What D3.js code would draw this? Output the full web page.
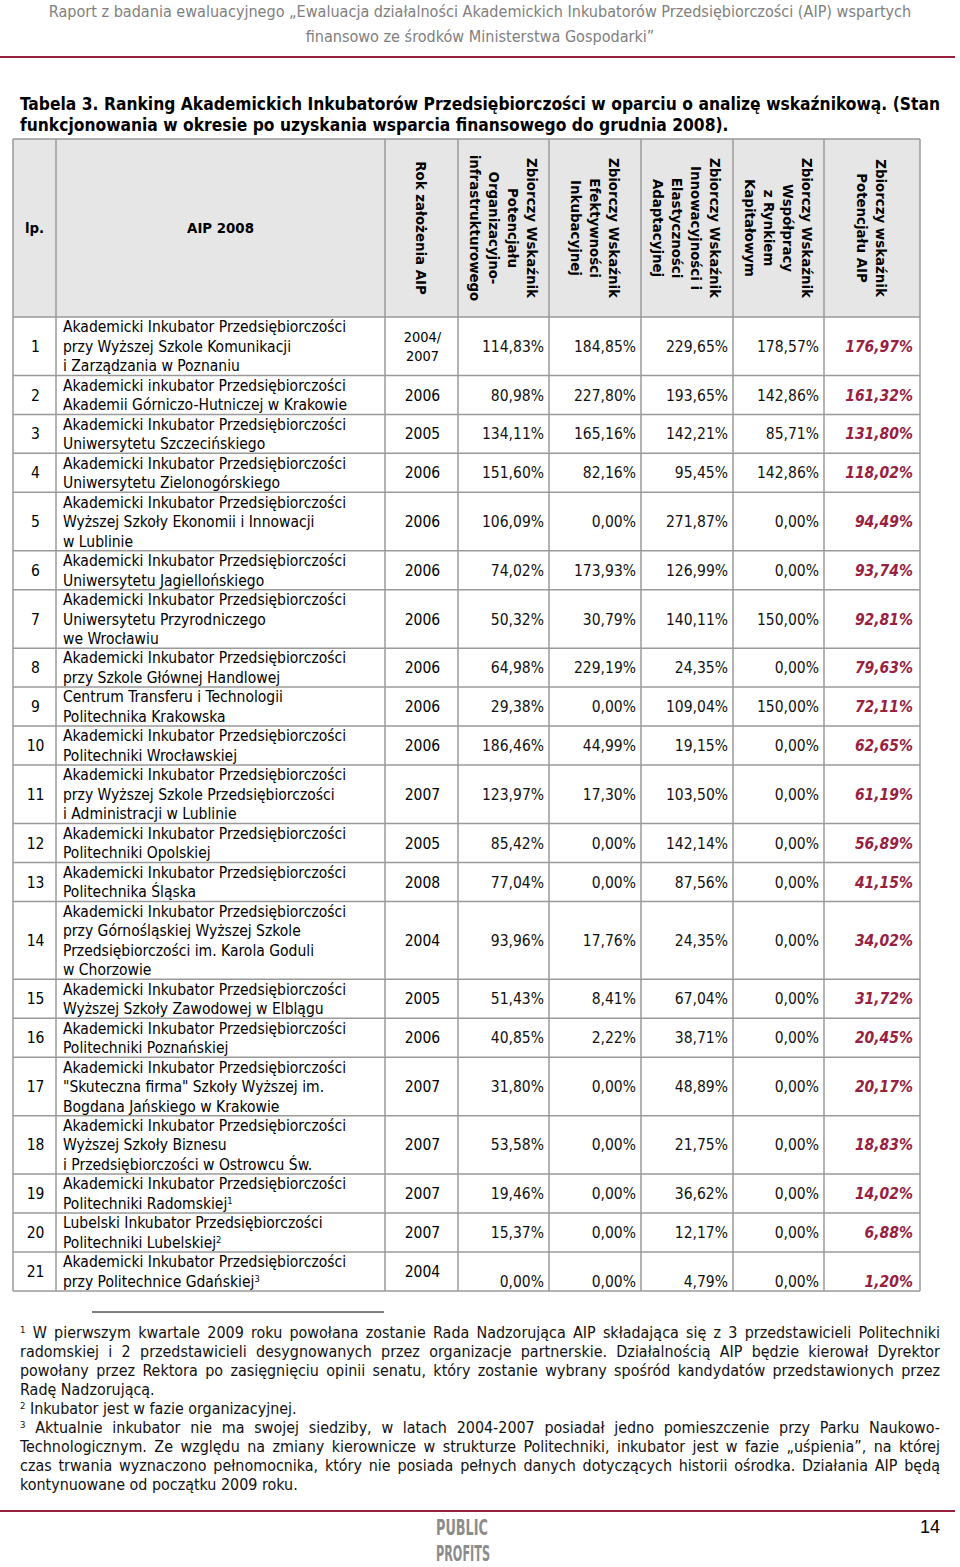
<!DOCTYPE html>
<html>
<head>
<meta charset="utf-8">
<script src="https://cdn.jsdelivr.net/npm/d3@7"></script>
<style>
  body { margin: 0; background: #fff; }
</style>
</head>
<body>
<svg id="page" width="960" height="1567"></svg>
<script>
// ---- data ----
const pageHeader = [
  "Raport z badania ewaluacyjnego „Ewaluacja działalności Akademickich Inkubatorów Przedsiębiorczości (AIP) wspartych",
  "finansowo ze środków Ministerstwa Gospodarki”"
];
const titleLines = [
  "Tabela 3. Ranking Akademickich Inkubatorów Przedsiębiorczości w oparciu o analizę wskaźnikową. (Stan",
  "funkcjonowania w okresie po uzyskania wsparcia finansowego do grudnia 2008)."
];
const colHeaders = [
  ["lp."],
  ["AIP 2008"],
  ["Rok założenia AIP"],
  ["Zbiorczy Wskaźnik", "Potencjału", "Organizacyjno-", "infrastrukturowego"],
  ["Zbiorczy Wskaźnik", "Efektywności", "Inkubacyjnej"],
  ["Zbiorczy Wskaźnik", "Innowacyjności i", "Elastyczności", "Adaptacyjnej"],
  ["Zbiorczy Wskaźnik", "Współpracy", "z Rynkiem", "Kapitałowym"],
  ["Zbiorczy wskaźnik", "Potencjału AIP"]
];
const lpLabels = ["1","2","3","4","5","6","7","8","9","10","11","12","13","14","15","16","17","18","19","20","21"];
const aipNames = [
  ["Akademicki Inkubator Przedsiębiorczości", "przy Wyższej Szkole Komunikacji", "i Zarządzania w Poznaniu"],
  ["Akademicki inkubator Przedsiębiorczości", "Akademii Górniczo-Hutniczej w Krakowie"],
  ["Akademicki Inkubator Przedsiębiorczości", "Uniwersytetu Szczecińskiego"],
  ["Akademicki Inkubator Przedsiębiorczości", "Uniwersytetu Zielonogórskiego"],
  ["Akademicki Inkubator Przedsiębiorczości", "Wyższej Szkoły Ekonomii i Innowacji", "w Lublinie"],
  ["Akademicki Inkubator Przedsiębiorczości", "Uniwersytetu Jagiellońskiego"],
  ["Akademicki Inkubator Przedsiębiorczości", "Uniwersytetu Przyrodniczego", "we Wrocławiu"],
  ["Akademicki Inkubator Przedsiębiorczości", "przy Szkole Głównej Handlowej"],
  ["Centrum Transferu i Technologii", "Politechnika Krakowska"],
  ["Akademicki Inkubator Przedsiębiorczości", "Politechniki Wrocławskiej"],
  ["Akademicki Inkubator Przedsiębiorczości", "przy Wyższej Szkole Przedsiębiorczości", "i Administracji w Lublinie"],
  ["Akademicki Inkubator Przedsiębiorczości", "Politechniki Opolskiej"],
  ["Akademicki Inkubator Przedsiębiorczości", "Politechnika Śląska"],
  ["Akademicki Inkubator Przedsiębiorczości", "przy Górnośląskiej Wyższej Szkole", "Przedsiębiorczości im. Karola Goduli", "w Chorzowie"],
  ["Akademicki Inkubator Przedsiębiorczości", "Wyższej Szkoły Zawodowej w Elblągu"],
  ["Akademicki Inkubator Przedsiębiorczości", "Politechniki Poznańskiej"],
  ["Akademicki Inkubator Przedsiębiorczości", "\"Skuteczna firma\" Szkoły Wyższej im.", "Bogdana Jańskiego w Krakowie"],
  ["Akademicki Inkubator Przedsiębiorczości", "Wyższej Szkoły Biznesu", "i Przedsiębiorczości w Ostrowcu Św."],
  ["Akademicki Inkubator Przedsiębiorczości", "Politechniki Radomskiej^1"],
  ["Lubelski Inkubator Przedsiębiorczości", "Politechniki Lubelskiej^2"],
  ["Akademicki Inkubator Przedsiębiorczości", "przy Politechnice Gdańskiej^3"]
];
const foundYears = [
  ["2004/", "2007"], ["2006"], ["2005"], ["2006"], ["2006"], ["2006"], ["2006"], ["2006"], ["2006"], ["2006"],
  ["2007"], ["2005"], ["2008"], ["2004"], ["2005"], ["2006"], ["2007"], ["2007"], ["2007"], ["2007"], ["2004"]
];
const potencjalOrg = [114.83, 80.98, 134.11, 151.60, 106.09, 74.02, 50.32, 64.98, 29.38, 186.46, 123.97, 85.42, 77.04, 93.96, 51.43, 40.85, 31.80, 53.58, 19.46, 15.37, 0.00];
const efektywnosc  = [184.85, 227.80, 165.16, 82.16, 0.00, 173.93, 30.79, 229.19, 0.00, 44.99, 17.30, 0.00, 0.00, 17.76, 8.41, 2.22, 0.00, 0.00, 0.00, 0.00, 0.00];
const innowacyjnosc = [229.65, 193.65, 142.21, 95.45, 271.87, 126.99, 140.11, 24.35, 109.04, 19.15, 103.50, 142.14, 87.56, 24.35, 67.04, 38.71, 48.89, 21.75, 36.62, 12.17, 4.79];
const wspolpraca   = [178.57, 142.86, 85.71, 142.86, 0.00, 0.00, 150.00, 0.00, 150.00, 0.00, 0.00, 0.00, 0.00, 0.00, 0.00, 0.00, 0.00, 0.00, 0.00, 0.00, 0.00];
const potencjalAIP = [176.97, 161.32, 131.80, 118.02, 94.49, 93.74, 92.81, 79.63, 72.11, 62.65, 61.19, 56.89, 41.15, 34.02, 31.72, 20.45, 20.17, 18.83, 14.02, 6.88, 1.20];
const footnotes = [
  ["^1 W pierwszym kwartale 2009 roku powołana zostanie Rada Nadzorująca AIP składająca się z 3 przedstawicieli Politechniki",
   "radomskiej i 2 przedstawicieli desygnowanych przez organizacje partnerskie. Działalnością AIP będzie kierował Dyrektor",
   "powołany przez Rektora po zasięgnięciu opinii senatu, który zostanie wybrany spośród kandydatów przedstawionych przez",
   "Radę Nadzorującą."],
  ["^2 Inkubator jest w fazie organizacyjnej."],
  ["^3 Aktualnie inkubator nie ma swojej siedziby, w latach 2004-2007 posiadał jedno pomieszczenie przy Parku Naukowo-",
   "Technologicznym. Ze względu na zmiany kierownicze w strukturze Politechniki, inkubator jest w fazie „uśpienia”, na której",
   "czas trwania wyznaczono pełnomocnika, który nie posiada pełnych danych dotyczących historii ośrodka. Działania AIP będą",
   "kontynuowane od początku 2009 roku."]
];
const pageNumber = "14";

// ---- layout ----
const BODY = '"DejaVu Sans Condensed","DejaVu Sans",sans-serif';
const NARROW = '"Liberation Sans Narrow","DejaVu Sans Condensed","DejaVu Sans",sans-serif';
const RED = "#98213f";
const GRID = "#9a9a9a";

const svg = d3.select("#page");
const fmt = d3.formatLocale({decimal: ",", thousands: " ", grouping: [3], currency: ["", ""]}).format(".2f");

const measurer = svg.append("text").attr("visibility", "hidden");
function fitSize(family, weight, style, sample, target) {
  measurer.attr("font-family", family).attr("font-weight", weight)
    .attr("font-style", style).style("font-stretch", "condensed")
    .attr("font-size", 20).text(sample);
  return 20 * target / measurer.node().getComputedTextLength();
}

// write text with ^n superscripts
function writeRich(t, str, size) {
  const parts = str.split(/(\^\d)/);
  parts.forEach(p => {
    if (!p) return;
    if (p[0] === "^") {
      t.append("tspan").attr("font-size", size * 0.6).attr("baseline-shift", "super").text(p.slice(1));
    } else {
      t.append("tspan").text(p);
    }
  });
}
function justify(t, width) {
  const node = t.node();
  const n = (node.textContent.match(/ /g) || []).length;
  const w = node.getComputedTextLength();
  if (n > 0) t.attr("word-spacing", (width - w) / n);
}

// ---- page header ----
const hdrSize = fitSize(NARROW, "normal", "normal", pageHeader[1], 349);
pageHeader.forEach((line, i) => {
  svg.append("text")
    .attr("x", 480).attr("y", 17 + i * 25)
    .attr("text-anchor", "middle")
    .attr("font-family", NARROW).style("font-stretch", "condensed")
    .attr("font-size", hdrSize).attr("fill", "#7f7f7f")
    .text(line);
});
svg.append("line").attr("x1", 0).attr("x2", 955).attr("y1", 57).attr("y2", 57)
  .attr("stroke", RED).attr("stroke-width", 2);

// ---- title ----
const titleSize = fitSize(BODY, "bold", "normal", titleLines[1], 709);
titleLines.forEach((line, i) => {
  const t = svg.append("text")
    .attr("x", 20).attr("y", 110 + i * 21)
    .attr("font-family", BODY).style("font-stretch", "condensed")
    .attr("font-weight", "bold").attr("font-size", titleSize)
    .text(line);
  if (i === 0) justify(t, 920);
});

// ---- table ----
const colEdges = [13, 56, 385, 458, 549, 641, 733, 824, 920];
const headTop = 139, headBottom = 317, tableBottom = 1291;
const rowLines = aipNames.map(d => d.length);
const cumLines = d3.cumsum([0].concat(rowLines));
const y = d3.scaleLinear().domain([0, d3.sum(rowLines)]).range([headBottom, tableBottom]);
const lineH = y(1) - y(0);

const nameSize = Math.min(15.5, fitSize(BODY, "normal", "normal", "Akademicki Inkubator Przedsiębiorczości", 295));
const valSize = Math.min(15.5, fitSize(BODY, "normal", "normal", "114,83%", 65));
const headSize = Math.min(16, fitSize(BODY, "bold", "normal", "Zbiorczy Wskaźnik", 140));

// header background
svg.append("rect")
  .attr("x", colEdges[0]).attr("y", headTop)
  .attr("width", colEdges[8] - colEdges[0]).attr("height", headBottom - headTop)
  .attr("fill", "#e6e6e6");

const table = svg.append("g");
const headG = table.append("g");
const headMid = (headTop + headBottom) / 2;
colHeaders.forEach((lines, c) => {
  const cx = (colEdges[c] + colEdges[c + 1]) / 2;
  if (c < 2) {
    headG.append("text")
      .attr("x", cx).attr("y", headMid + headSize * 0.36)
      .attr("text-anchor", "middle")
      .attr("font-family", BODY).style("font-stretch", "condensed")
      .attr("font-weight", "bold").attr("font-size", headSize)
      .text(lines[0]);
  } else {
    const step = 19;
    lines.forEach((ln, i) => {
      const lx = cx + ((lines.length - 1) / 2 - i) * step - headSize * 0.36;
      headG.append("text")
        .attr("transform", `translate(${lx},${headMid}) rotate(90)`)
        .attr("text-anchor", "middle")
        .attr("font-family", BODY).style("font-stretch", "condensed")
        .attr("font-weight", "bold").attr("font-size", headSize)
        .text(ln);
    });
  }
});

// body rows
const rows = table.append("g").selectAll("g.row")
  .data(aipNames.map((name, i) => ({
    i, name, lp: lpLabels[i], year: foundYears[i],
    vals: [potencjalOrg[i], efektywnosc[i], innowacyjnosc[i], wspolpraca[i], potencjalAIP[i]],
    top: y(cumLines[i]), bottom: y(cumLines[i + 1])
  })))
  .join("g").attr("class", "row");

const textAttrs = sel => sel.attr("font-family", BODY).style("font-stretch", "condensed");

rows.append("text")
  .call(textAttrs)
  .attr("x", (colEdges[0] + colEdges[1]) / 2 + 1)
  .attr("y", d => (d.top + d.bottom) / 2 + nameSize * 0.36)
  .attr("text-anchor", "middle").attr("font-size", nameSize)
  .text(d => d.lp);

rows.each(function(d) {
  const g = d3.select(this);
  d.name.forEach((ln, k) => {
    const t = g.append("text").call(textAttrs)
      .attr("x", colEdges[1] + 7)
      .attr("y", d.top + (k + 0.5) * lineH + nameSize * 0.36)
      .attr("font-size", nameSize);
    writeRich(t, ln, nameSize);
  });
  const ymid = (d.top + d.bottom) / 2;
  d.year.forEach((yr, k) => {
    g.append("text").call(textAttrs)
      .attr("x", (colEdges[2] + colEdges[3]) / 2 + 1)
      .attr("y", ymid + (k - (d.year.length - 1) / 2) * 19 + nameSize * 0.36)
      .attr("text-anchor", "middle")
      .attr("font-size", d.year.length > 1 ? nameSize * 0.93 : nameSize)
      .text(yr);
  });
  // last row in the source sits its numbers on the bottom line
  const vy = d.i === aipNames.length - 1 ? d.bottom - lineH / 2 : ymid;
  d.vals.forEach((v, c) => {
    const last = c === d.vals.length - 1;
    g.append("text").call(textAttrs)
      .attr("x", colEdges[c + 4] - (last ? 7 : 5))
      .attr("y", vy + valSize * 0.36)
      .attr("text-anchor", "end")
      .attr("font-size", valSize)
      .attr("font-weight", last ? "bold" : "normal")
      .attr("font-style", last ? "italic" : "normal")
      .attr("fill", last ? RED : "#111")
      .text(fmt(v) + "%");
  });
});

// grid lines
const grid = table.append("g").attr("stroke", GRID).attr("stroke-width", 1.5);
const hLines = [headTop, headBottom].concat(rows.data().map(d => d.bottom));
grid.selectAll("line.h").data(hLines).join("line")
  .attr("x1", colEdges[0]).attr("x2", colEdges[8])
  .attr("y1", d => d).attr("y2", d => d);
grid.selectAll("line.v").data(colEdges).join("line")
  .attr("x1", d => d).attr("x2", d => d)
  .attr("y1", headTop).attr("y2", tableBottom);

// ---- footnotes ----
svg.append("line").attr("x1", 92).attr("x2", 384).attr("y1", 1312).attr("y2", 1312)
  .attr("stroke", "#000").attr("stroke-width", 1);
const fnSize = fitSize(NARROW, "normal", "normal", "kontynuowane od początku 2009 roku.", 278);
let fnY = 1338;
footnotes.forEach(note => {
  note.forEach((ln, k) => {
    const t = svg.append("text")
      .attr("x", 20).attr("y", fnY)
      .attr("font-family", NARROW).style("font-stretch", "condensed")
      .attr("font-size", fnSize).attr("fill", "#111");
    writeRich(t, ln, fnSize);
    if (k < note.length - 1) justify(t, 920);
    fnY += 19;
  });
});

// ---- page footer ----
svg.append("line").attr("x1", 0).attr("x2", 955).attr("y1", 1511).attr("y2", 1511)
  .attr("stroke", RED).attr("stroke-width", 2);
svg.append("text")
  .attr("x", 940).attr("y", 1533).attr("text-anchor", "end")
  .attr("font-family", '"Liberation Sans",Arial,sans-serif').attr("font-size", 18)
  .text(pageNumber);
["PUBLIC", "PROFITS"].forEach((w, i) => {
  svg.append("text")
    .attr("x", 436).attr("y", 1535 + i * 26)
    .attr("textLength", i === 0 ? 52 : 54).attr("lengthAdjust", "spacingAndGlyphs")
    .attr("font-family", BODY).style("font-stretch", "condensed")
    .attr("font-weight", "bold").attr("font-size", 21)
    .attr("fill", "#8c8c8c")
    .text(w);
});
measurer.remove();
</script>
</body>
</html>
